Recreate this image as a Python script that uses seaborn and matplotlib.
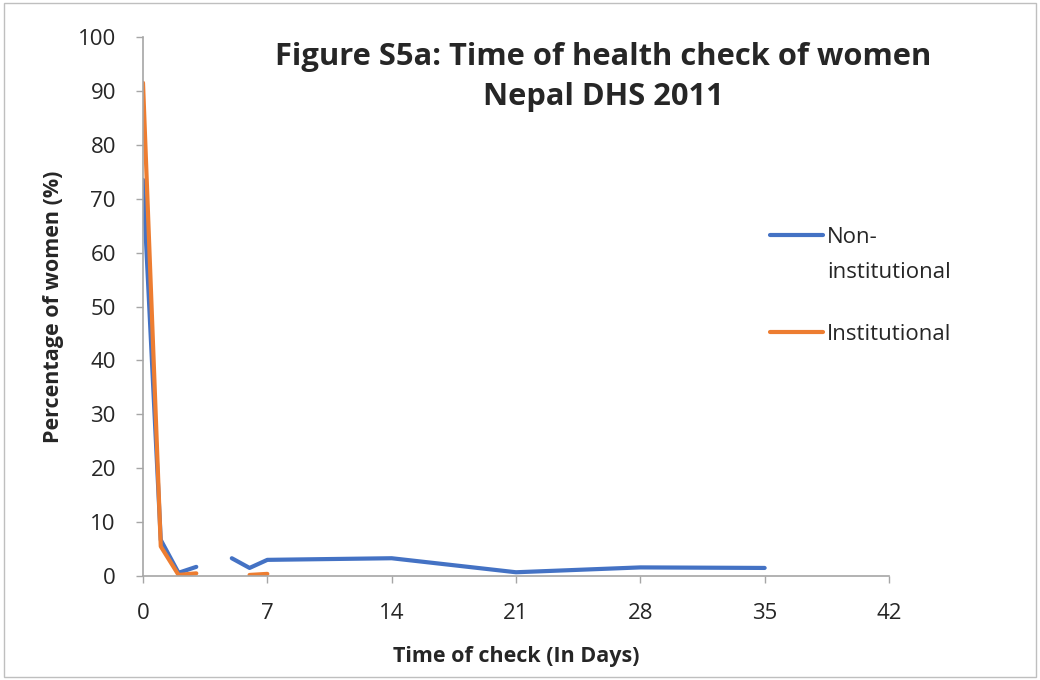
import matplotlib
matplotlib.use("Agg")
import matplotlib.pyplot as plt
import seaborn as sns
from matplotlib.lines import Line2D
from matplotlib.patches import Rectangle

# values (days since birth, % of women)
days_a = [0, 1, 2, 3]
non_inst_a = [73.5, 6.7, 0.6, 1.7]
inst_a = [91.5, 5.5, 0.2, 0.5]

days_b = [5, 6, 7, 14, 21, 28, 35]
non_inst_b = [3.3, 1.5, 3.0, 3.3, 0.7, 1.6, 1.5]

days_c = [6, 7]
inst_c = [0.2, 0.4]

x_ticks = [0, 7, 14, 21, 28, 35, 42]
y_ticks = list(range(0, 101, 10))

blue = "#4472C4"
orange = "#ED7D31"

sns.set_style("white")
plt.rcParams["font.family"] = ["Open Sans", "DejaVu Sans"]

fig = plt.figure(figsize=(10.4, 6.8), dpi=100)
ax = fig.add_axes([0.1375, 0.1529, 0.7173, 0.7927])

sns.lineplot(x=days_a, y=non_inst_a, color=blue, lw=3, ax=ax, legend=False)
sns.lineplot(x=days_b, y=non_inst_b, color=blue, lw=3, ax=ax, legend=False)
sns.lineplot(x=days_a, y=inst_a, color=orange, lw=3, ax=ax, legend=False)
sns.lineplot(x=days_c, y=inst_c, color=orange, lw=3, ax=ax, legend=False)

ax.set_xlim(0, 42)
ax.set_ylim(0, 100)
ax.set_xticks(x_ticks)
ax.set_yticks(y_ticks)
ax.tick_params(axis="both", labelsize=16, length=5, width=1, color="#A6A6A6",
               direction="out", bottom=True, left=True, pad=14.5)
for s in ["top", "right"]:
    ax.spines[s].set_visible(False)
for s in ["left", "bottom"]:
    ax.spines[s].set_color("#A6A6A6")
    ax.spines[s].set_linewidth(1.2)

ax.set_xlabel("Time of check (In Days)", fontsize=15.5, fontweight="bold", labelpad=16)
ax.set_ylabel("Percentage of women (%)", fontsize=15.5, fontweight="bold", labelpad=10)

fig.text(603 / 1040, 1 - 57 / 680, "Figure S5a: Time of health check of women",
         ha="center", va="center", fontsize=22.2, fontweight="bold")
fig.text(603 / 1040, 1 - 97 / 680, "Nepal DHS 2011",
         ha="center", va="center", fontsize=22.2, fontweight="bold")

# legend, laid out like the original (handle level with the first text line)
fig.add_artist(Line2D([770 / 1040, 823 / 1040], [1 - 235 / 680] * 2, color=blue, lw=3,
                      solid_capstyle="round"))
fig.add_artist(Line2D([770 / 1040, 823 / 1040], [1 - 332 / 680] * 2, color=orange, lw=3,
                      solid_capstyle="round"))
fig.text(827 / 1040, 1 - 235 / 680, "Non-", ha="left", va="center_baseline", fontsize=16)
fig.text(827 / 1040, 1 - 270 / 680, "institutional", ha="left", va="center_baseline", fontsize=16)
fig.text(827 / 1040, 1 - 332 / 680, "Institutional", ha="left", va="center_baseline", fontsize=16)

fig.patches.append(Rectangle((0.004, 0.005), 0.992, 0.99, transform=fig.transFigure,
                             fill=False, edgecolor="#BFBFBF", lw=1))

fig.savefig("out.png", dpi=100)
